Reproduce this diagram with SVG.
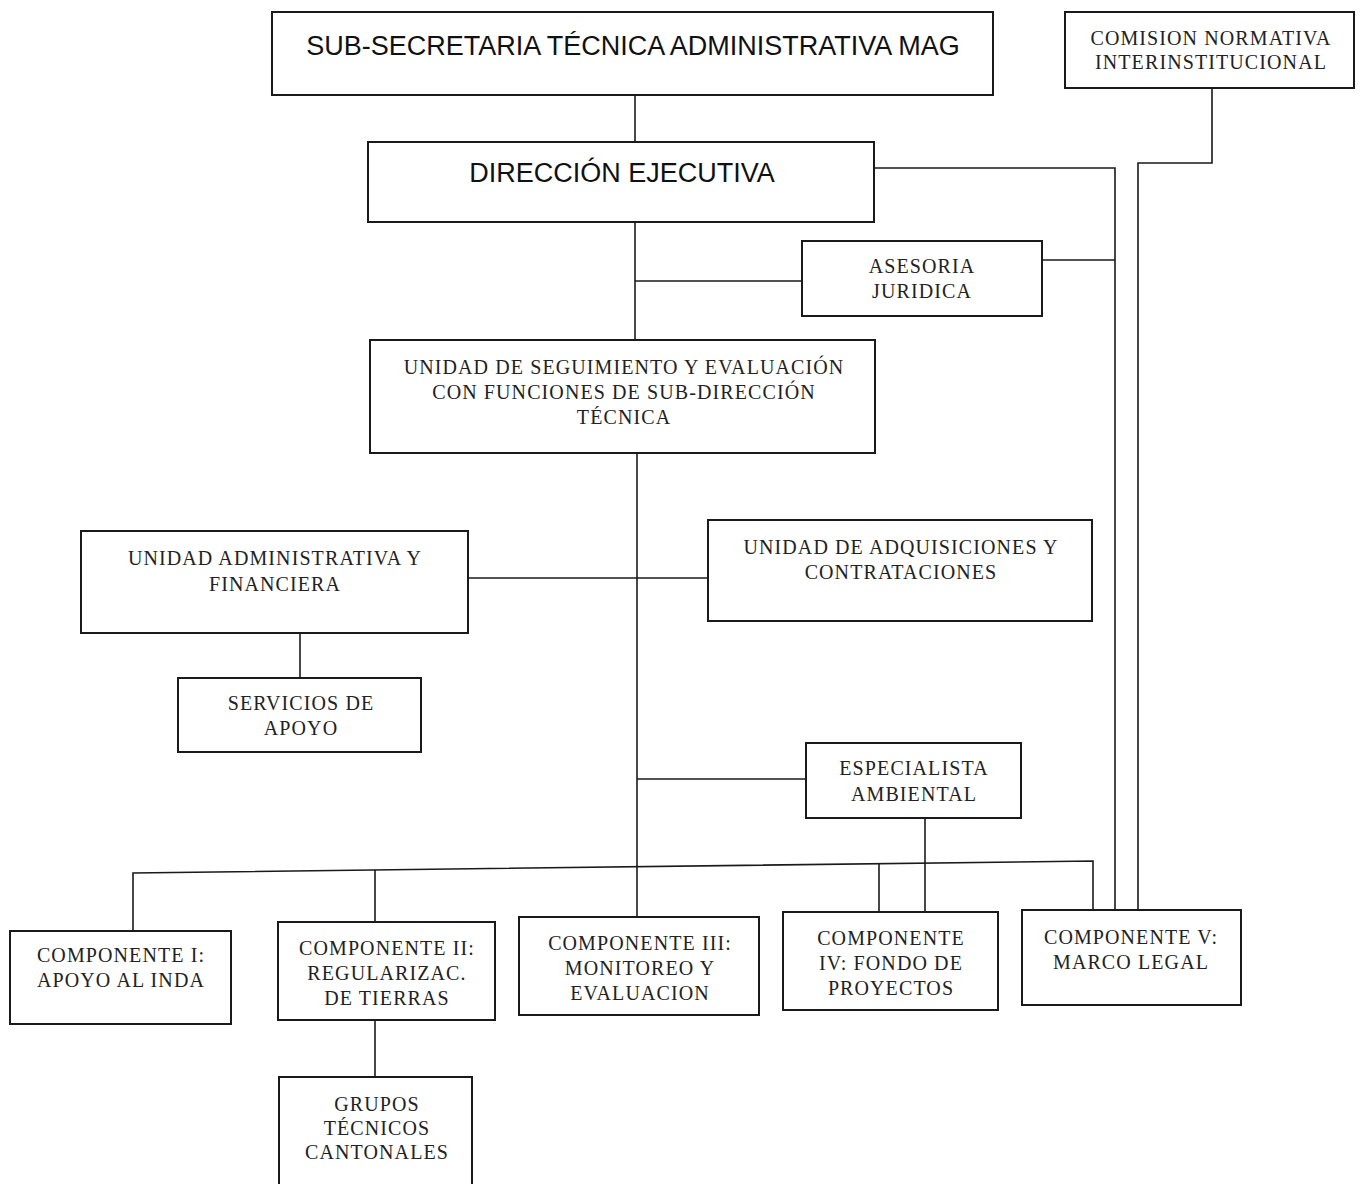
<svg xmlns="http://www.w3.org/2000/svg" width="1361" height="1184" viewBox="0 0 1361 1184">
<style>
.box{fill:#fff;stroke:#1a1a1a;stroke-width:2}
.ln{fill:none;stroke:#1a1a1a;stroke-width:1.6}
.s{font-family:"Liberation Sans",Arial,sans-serif;fill:#111;text-anchor:middle;font-size:27px}
.t{font-family:"Liberation Serif","Times New Roman",serif;font-size:20px;letter-spacing:1.1px;fill:#222;text-anchor:middle}
</style>
<rect width="1361" height="1184" fill="#fff"/>
<g id="connectors">
<path class="ln" d="M635 95V142"/>
<path class="ln" d="M635 222V340"/>
<path class="ln" d="M635 281H802"/>
<path class="ln" d="M874 168H1115V910"/>
<path class="ln" d="M1042 260H1115"/>
<path class="ln" d="M1212 88V163H1138V910"/>
<path class="ln" d="M637 453V917"/>
<path class="ln" d="M468 578H708"/>
<path class="ln" d="M300 633V678"/>
<path class="ln" d="M637 779H806"/>
<path class="ln" d="M925 818V912"/>
<path class="ln" d="M133 931V873L1093 861V910"/>
<path class="ln" d="M375 922V870"/>
<path class="ln" d="M879 912V864"/>
<path class="ln" d="M375 1020V1077"/>
</g>
<g id="sub-secretaria"><rect class="box" x="272" y="12" width="721" height="83"/><text class="s" x="633" y="55">SUB-SECRETARIA TÉCNICA ADMINISTRATIVA MAG</text></g>
<g id="comision"><rect class="box" x="1065" y="12" width="289" height="76"/><text class="t" x="1211" y="45">COMISION NORMATIVA</text><text class="t" x="1211" y="69">INTERINSTITUCIONAL</text></g>
<g id="direccion"><rect class="box" x="368" y="142" width="506" height="80"/><text class="s" x="622" y="182">DIRECCIÓN EJECUTIVA</text></g>
<g id="asesoria"><rect class="box" x="802" y="241" width="240" height="75"/><text class="t" x="922" y="273">ASESORIA</text><text class="t" x="922" y="298">JURIDICA</text></g>
<g id="unidad-seguimiento"><rect class="box" x="370" y="340" width="505" height="113"/><text class="t" x="624" y="374">UNIDAD DE SEGUIMIENTO Y EVALUACIÓN</text><text class="t" x="624" y="399">CON FUNCIONES DE SUB-DIRECCIÓN</text><text class="t" x="624" y="424">TÉCNICA</text></g>
<g id="unidad-administrativa"><rect class="box" x="81" y="531" width="387" height="102"/><text class="t" x="275" y="565">UNIDAD ADMINISTRATIVA  Y</text><text class="t" x="275" y="591">FINANCIERA</text></g>
<g id="unidad-adquisiciones"><rect class="box" x="708" y="520" width="384" height="101"/><text class="t" x="901" y="554">UNIDAD DE ADQUISICIONES Y</text><text class="t" x="901" y="579">CONTRATACIONES</text></g>
<g id="servicios"><rect class="box" x="178" y="678" width="243" height="74"/><text class="t" x="301" y="710">SERVICIOS DE</text><text class="t" x="301" y="735">APOYO</text></g>
<g id="especialista"><rect class="box" x="806" y="743" width="215" height="75"/><text class="t" x="914" y="775">ESPECIALISTA</text><text class="t" x="914" y="801">AMBIENTAL</text></g>
<g id="componente-1"><rect class="box" x="10" y="931" width="221" height="93"/><text class="t" x="121" y="962">COMPONENTE I:</text><text class="t" x="121" y="987">APOYO AL INDA</text></g>
<g id="componente-2"><rect class="box" x="278" y="922" width="217" height="98"/><text class="t" x="387" y="955">COMPONENTE II:</text><text class="t" x="387" y="980">REGULARIZAC.</text><text class="t" x="387" y="1005">DE TIERRAS</text></g>
<g id="componente-3"><rect class="box" x="519" y="917" width="240" height="98"/><text class="t" x="640" y="950">COMPONENTE III:</text><text class="t" x="640" y="975">MONITOREO Y</text><text class="t" x="640" y="1000">EVALUACION</text></g>
<g id="componente-4"><rect class="box" x="783" y="912" width="215" height="98"/><text class="t" x="891" y="945">COMPONENTE</text><text class="t" x="891" y="970">IV: FONDO DE</text><text class="t" x="891" y="995">PROYECTOS</text></g>
<g id="componente-5"><rect class="box" x="1022" y="910" width="219" height="95"/><text class="t" x="1131" y="944">COMPONENTE V:</text><text class="t" x="1131" y="969">MARCO LEGAL</text></g>
<g id="grupos"><rect class="box" x="279" y="1077" width="193" height="110"/><text class="t" x="377" y="1111">GRUPOS</text><text class="t" x="377" y="1135">TÉCNICOS</text><text class="t" x="377" y="1159">CANTONALES</text></g>
</svg>
